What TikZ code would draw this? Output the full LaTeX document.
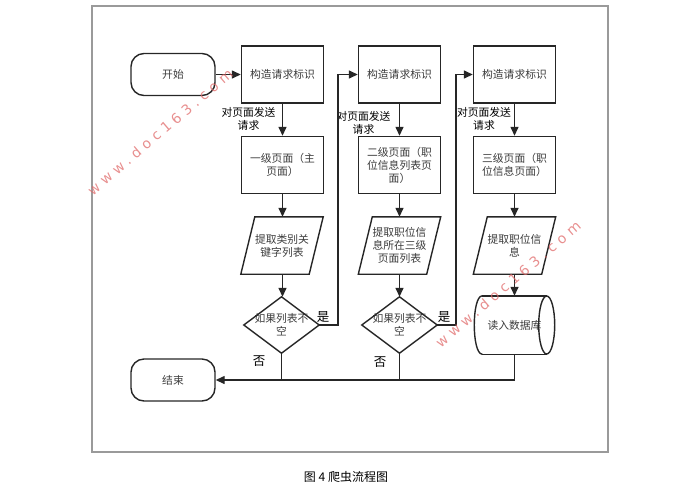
\documentclass[tikz,border=0pt]{standalone}
\usepackage{fontspec}
\usetikzlibrary{arrows.meta,calc}
\setmainfont{Noto Sans CJK SC}
\newfontfamily\wmfont[LetterSpace=34]{DejaVu Sans}
\definecolor{framegray}{HTML}{9A9A9A}
\definecolor{txtgray}{HTML}{3C3C3C}
\definecolor{wmred}{HTML}{E06A6A}
\definecolor{linec}{HTML}{262626}
\begin{document}
\begin{tikzpicture}[x=1pt,y=-1pt,
 every node/.style={font=\fontsize{10.8}{13}\selectfont, text=txtgray, inner sep=0pt},
 procbox/.style={draw=linec, line width=1.4pt, minimum width=82pt, minimum height=57pt, align=center},
 termbox/.style={draw=linec, line width=1.4pt, rounded corners=13pt, minimum width=84pt, minimum height=42pt},
 iobox/.style={minimum width=82pt, minimum height=57pt, align=center},
 decbox/.style={minimum width=75pt, minimum height=56pt, align=center},
 dbbox/.style={minimum width=80pt, minimum height=58pt, align=center},
 flow/.style={line width=1.4pt, draw=linec, -{Triangle[length=9pt,width=8pt]}},
 link/.style={line width=1.4pt, draw=linec},
 outline/.style={line width=1.4pt, draw=linec},
 lbl/.style={text=black, align=center},
 yn/.style={text=black, font=\fontsize{12.5}{14}\selectfont},
 wm/.style={text=wmred, font=\wmfont\fontsize{14}{14}\selectfont, rotate=40.5, opacity=0.75}
]
\useasboundingbox (0,0) rectangle (690,491);
\draw[framegray, line width=1.6pt] (92,6) rectangle (608,452);

% terminals
\node[termbox] (s) at (173,74.5) {开始};
\node[termbox] (e) at (173,380) {结束};

% column 1
\node[procbox] (b1) at (282.5,74.5) {构造请求标识};
\node[procbox] (g1) at (282.5,165) {一级页面（主\\页面）};
\node[iobox] (p1) at (282,245.5) {提取类别关\\键字列表};
\node[decbox] (d1) at (281.5,325) {如果列表不\\空};

% column 2
\node[procbox] (b2) at (399.5,74.5) {构造请求标识};
\node[procbox] (g2) at (399.5,165) {二级页面（职\\位信息列表页\\面）};
\node[iobox] (p2) at (399.5,245.5) {提取职位信\\息所在三级\\页面列表};
\node[decbox] (d2) at (399.5,325) {如果列表不\\空};

% column 3
\node[procbox] (b3) at (514.5,74.5) {构造请求标识};
\node[procbox] (g3) at (514.5,165) {三级页面（职\\位信息页面）};
\node[iobox] (p3) at (514.5,245.5) {提取职位信\\息};
\node[dbbox] (c3) at (514.5,325) {读入数据库};

% shapes drawn around text nodes
\foreach \p in {p1,p2,p3}{
  \draw[outline] ([xshift=14pt]\p.north west) -- (\p.north east) -- ([xshift=-14pt]\p.south east) -- (\p.south west) -- cycle;
}
\foreach \d in {d1,d2}{
  \draw[outline] (\d.north) -- (\d.east) -- (\d.south) -- (\d.west) -- cycle;
}
\draw[outline] ([xshift=8pt]c3.north west) -- ([xshift=-8pt]c3.north east);
\draw[outline] ([xshift=8pt]c3.south west) -- ([xshift=-8pt]c3.south east);
\draw[outline] ([xshift=-8pt]c3.east) ellipse [x radius=8pt, y radius=29pt];
\draw[outline] ([xshift=8pt]c3.north west) to[out=180,in=180,looseness=0.47] ([xshift=8pt]c3.south west);

% labels
\node[lbl] (l1) at (248.5,118.5) {对页面发送\\请求};
\node[lbl] (l2) at (363.5,123) {对页面发送\\请求};
\node[lbl] (l3) at (484,118.5) {对页面发送\\请求};
\node[yn] (y1) at (323,317) {是};
\node[yn] (y2) at (444,317) {是};
\node[yn] (n1) at (259,361) {否};
\node[yn] (n2) at (380,362) {否};

% junction columns
\coordinate (j1) at (338,0);
\coordinate (j2) at (456,0);

% connectors
\draw[flow] (s.east) -- (b1.west);
\draw[flow] (b1.south) -- (g1.north);
\draw[flow] (g1.south) -- (g1.south |- p1.north);
\draw[flow] (p1.south -| g1.south) -- (g1.south |- d1.north);
\draw[flow] (b2.south) -- (g2.north);
\draw[flow] (g2.south) -- (p2.north);
\draw[flow] (p2.south) -- (d2.north);
\draw[flow] (b3.south) -- (g3.north);
\draw[flow] (g3.south) -- (p3.north);
\draw[flow] (p3.south) -- (c3.north);
\draw[flow] (d1.east) -- (d1.east -| j1) -- (j1 |- b2.west) -- (b2.west);
\draw[flow] (d2.east) -- (d2.east -| j2) -- (j2 |- b3.west) -- (b3.west);
\draw[link] (d1.south) -- (d1.south |- e.east);
\draw[link] (d2.south) -- (d2.south |- e.east);
\draw[flow] (c3.south) |- (e.east);

% caption
\node[text=black, font=\fontsize{12}{12}\selectfont] (cap) at (346,477) {图 4 爬虫流程图};

% watermarks
\node[wm] (wm1) at (160,132) {www.doc163.com};
\node[wm] (wm2) at (508,284) {www.doc163.com};
\end{tikzpicture}
\end{document}
